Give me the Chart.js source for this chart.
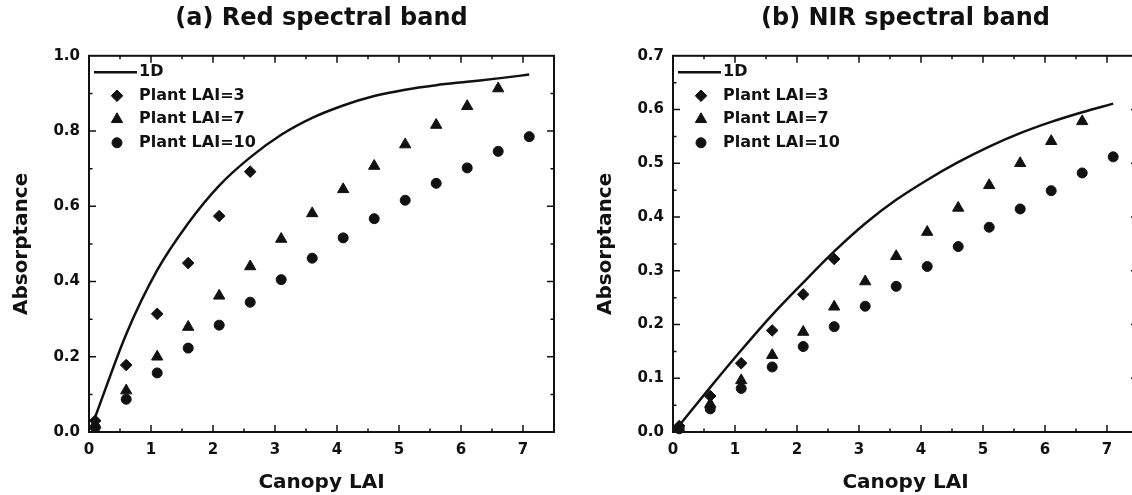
<!DOCTYPE html>
<html>
<head>
<meta charset="utf-8">
<title>Absorptance vs Canopy LAI</title>
<script src="https://cdn.jsdelivr.net/npm/chart.js@4.4.1/dist/chart.umd.min.js"></script>
<style>
    html, body { margin: 0; padding: 0; background: #fff; overflow: hidden; }
    body { width: 1132px; height: 495px; position: relative; }
    .panel { position: absolute; top: 0; width: 584px; height: 495px; }
    #panelRed { left: 0; }
    #panelNir { left: 584px; }
</style>
</head>
<body>
<div class="panel" id="panelRed"><canvas id="redChart"></canvas></div>
<div class="panel" id="panelNir"><canvas id="nirChart"></canvas></div>
<script>
// canopy LAI where the plant canopies were sampled
const canopyLai = [0.1, 0.6, 1.1, 1.6, 2.1, 2.6, 3.1, 3.6, 4.1, 4.6, 5.1, 5.6, 6.1, 6.6, 7.1];

// (a) red band
const redOneD = [0.04, 0.26, 0.43, 0.555, 0.655, 0.73, 0.79, 0.835, 0.868, 0.893, 0.91, 0.922, 0.931, 0.94, 0.95];
const redPlant3 = [0.03, 0.178, 0.314, 0.449, 0.574, 0.692];
const redPlant7 = [0.02, 0.11, 0.2, 0.279, 0.362, 0.44, 0.513, 0.581, 0.645, 0.707, 0.764, 0.816, 0.866, 0.913];
const redPlant10 = [0.012, 0.087, 0.157, 0.223, 0.284, 0.345, 0.405, 0.462, 0.516, 0.567, 0.616, 0.661, 0.702, 0.746, 0.785];

// (b) NIR band
const nirOneD = [0.012, 0.083, 0.152, 0.218, 0.278, 0.336, 0.388, 0.432, 0.469, 0.502, 0.531, 0.556, 0.577, 0.595, 0.611];
const nirPlant3 = [0.011, 0.067, 0.128, 0.189, 0.256, 0.322];
const nirPlant7 = [0.006, 0.052, 0.096, 0.143, 0.186, 0.233, 0.28, 0.327, 0.372, 0.417, 0.459, 0.5, 0.541, 0.578];
const nirPlant10 = [0.006, 0.043, 0.081, 0.121, 0.159, 0.196, 0.234, 0.271, 0.308, 0.345, 0.381, 0.415, 0.449, 0.482, 0.512];

// tick labels
const xTicks = [0, 1, 2, 3, 4, 5, 6, 7];
const redYTicks = [0.0, 0.2, 0.4, 0.6, 0.8, 1.0];
const nirYTicks = [0.0, 0.1, 0.2, 0.3, 0.4, 0.5, 0.6, 0.7];

const seriesLabels = ['1D', 'Plant LAI=3', 'Plant LAI=7', 'Plant LAI=10'];

const ink = '#111';
Chart.defaults.font.family = "'DejaVu Sans', sans-serif";
Chart.defaults.color = ink;

function toPoints(values) {
    return values.map((v, i) => ({x: canopyLai[i], y: v}));
}

function midpoints(ticks) {
    let out = [];
    for (let i = 0; i < ticks.length; i++) {
        let next = i + 1 < ticks.length ? ticks[i + 1] : ticks[i] + (ticks[1] - ticks[0]);
        out.push((ticks[i] + next) / 2);
    }
    return out;
}

// box round the plot with inward major and minor ticks on all four sides
const frameTicks = {
    id: 'frameTicks',
    afterDatasetsDraw(chart) {
        const {ctx, chartArea: {left, right, top, bottom}, scales: {x, y}} = chart;
        const xMajor = x.ticks.map(t => t.value);
        const yMajor = y.ticks.map(t => t.value);
        ctx.save();
        ctx.strokeStyle = ink;
        ctx.lineWidth = 1.5;
        ctx.beginPath();
        const mark = (list, len) => {
            list.forEach(v => {
                let px = x.getPixelForValue(v);
                if (px > left + 1 && px < right - 1) {
                    ctx.moveTo(px, bottom); ctx.lineTo(px, bottom - len);
                    ctx.moveTo(px, top); ctx.lineTo(px, top + len);
                }
            });
        };
        const markY = (list, len) => {
            list.forEach(v => {
                let py = y.getPixelForValue(v);
                if (py > top + 1 && py < bottom - 1) {
                    ctx.moveTo(left, py); ctx.lineTo(left + len, py);
                    ctx.moveTo(right, py); ctx.lineTo(right - len, py);
                }
            });
        };
        mark(xMajor, 7);
        mark(midpoints(xMajor), 3.5);
        markY(yMajor, 7);
        markY(midpoints(yMajor), 3.5);
        ctx.stroke();
        ctx.lineWidth = 2;
        ctx.strokeRect(left, top, right - left, bottom - top);
        ctx.restore();
    }
};

// legend drawn inside the top-left corner of the plot
const insideLegend = {
    id: 'insideLegend',
    afterDraw(chart) {
        const {ctx, chartArea} = chart;
        const x0 = chartArea.left;
        ctx.save();
        ctx.font = "bold 16px 'DejaVu Sans'";
        ctx.textBaseline = 'middle';
        ctx.fillStyle = ink;
        ctx.strokeStyle = ink;
        chart.data.datasets.forEach((ds, i) => {
            const yRow = chartArea.top + 16.5 + i * 23.5;
            if (ds.showLine) {
                ctx.lineWidth = ds.borderWidth;
                ctx.beginPath();
                ctx.moveTo(x0 + 5, yRow);
                ctx.lineTo(x0 + 48, yRow);
                ctx.stroke();
            } else {
                ctx.lineWidth = 1;
                Chart.helpers.drawPoint(ctx, {pointStyle: ds.pointStyle, radius: ds.pointRadius, rotation: 0, borderWidth: 1}, x0 + 28, yRow);
            }
            ctx.fillText(ds.label, x0 + 50, yRow);
        });
        ctx.restore();
    }
};

function makePanel(canvasId, title, series, yTicks, yMax) {
    const marker = (label, values, style, radius) => ({
        label: label,
        data: toPoints(values),
        pointStyle: style,
        pointRadius: radius,
        pointHoverRadius: radius,
        backgroundColor: ink,
        borderColor: ink,
        borderWidth: 1,
        clip: false
    });

    const datasets = [
        {
            label: seriesLabels[0],
            data: toPoints(series[0]),
            showLine: true,
            borderColor: ink,
            borderWidth: 2.5,
            pointRadius: 0,
            cubicInterpolationMode: 'monotone',
            clip: false
        },
        marker(seriesLabels[1], series[1], 'rectRot', 5.8),
        marker(seriesLabels[2], series[2], 'triangle', 6.5),
        marker(seriesLabels[3], series[3], 'circle', 5)
    ];

    const ctx = document.getElementById(canvasId).getContext('2d');
    return new Chart(ctx, {
        type: 'scatter',
        data: {datasets: datasets},
        options: {
            responsive: true,
            maintainAspectRatio: false,
            animation: false,
            layout: {padding: {left: 0, right: 30, top: 0, bottom: 0}},
            plugins: {
                legend: {display: false},
                tooltip: {enabled: false},
                title: {
                    display: true,
                    text: title,
                    fullSize: false,
                    color: ink,
                    font: {size: 24, weight: 'bold'},
                    padding: {top: 4, bottom: 23}
                }
            },
            scales: {
                x: {
                    type: 'linear',
                    min: 0,
                    max: 7.5,
                    afterBuildTicks: scale => { scale.ticks = xTicks.map(v => ({value: v})); },
                    afterFit: scale => { scale.height = 63; },
                    grid: {display: false, drawTicks: false},
                    border: {display: false},
                    ticks: {
                        padding: 9,
                        color: ink,
                        font: {size: 15, weight: 'bold'},
                        callback: v => String(v)
                    },
                    title: {
                        display: true,
                        text: 'Canopy LAI',
                        color: ink,
                        font: {size: 20, weight: 'bold'},
                        padding: {top: 0, bottom: 0}
                    }
                },
                y: {
                    type: 'linear',
                    min: 0,
                    max: yMax,
                    afterBuildTicks: scale => { scale.ticks = yTicks.map(v => ({value: v})); },
                    afterFit: scale => { scale.width = 89; },
                    grid: {display: false, drawTicks: false},
                    border: {display: false},
                    ticks: {
                        padding: 9,
                        color: ink,
                        font: {size: 15, weight: 'bold'},
                        callback: v => v.toFixed(1)
                    },
                    title: {
                        display: true,
                        text: 'Absorptance',
                        color: ink,
                        font: {size: 20, weight: 'bold'},
                        padding: {top: 10, bottom: 0}
                    }
                }
            }
        },
        plugins: [frameTicks, insideLegend]
    });
}

makePanel('redChart', '(a) Red spectral band', [redOneD, redPlant3, redPlant7, redPlant10], redYTicks, 1.0);
makePanel('nirChart', '(b) NIR spectral band', [nirOneD, nirPlant3, nirPlant7, nirPlant10], nirYTicks, 0.7);
</script>
</body>
</html>
